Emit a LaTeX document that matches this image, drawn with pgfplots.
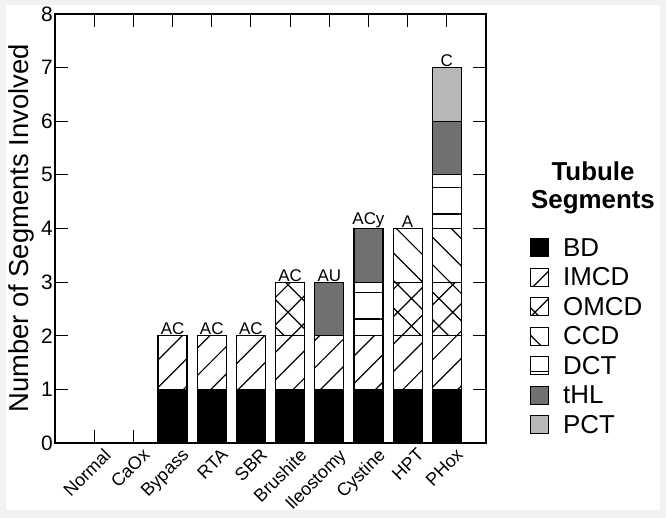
\documentclass[border=0pt]{standalone}
\usepackage{fontspec}
\setmainfont{Liberation Sans}
\usepackage{pgfplots}
\usepackage{pgfplotstable}
\pgfplotsset{compat=1.18}
\usetikzlibrary{patterns.meta}

\pgfplotstableread{
x BD IMCD OMCD CCD DCT tHL PCT
0 0 0 0 0 0 0 0
1 0 0 0 0 0 0 0
2 1 1 0 0 0 0 0
3 1 1 0 0 0 0 0
4 1 1 0 0 0 0 0
5 1 1 1 0 0 0 0
6 1 1 0 0 0 1 0
7 1 1 0 0 1 1 0
8 1 1 1 1 0 0 0
9 1 1 1 1 1 1 1
}\segdata

\definecolor{thl}{gray}{0.44}
\definecolor{pct}{gray}{0.72}
\definecolor{bgc}{gray}{0.95}
\tikzset{toplab/.style={anchor=south, inner sep=0.5bp, font=\fontsize{17}{17}\selectfont}}

\begin{document}
\begin{tikzpicture}
\useasboundingbox (-55bp,-75bp) rectangle (611bp,443bp);
\fill[bgc] (-55bp,-75bp) rectangle (611bp,443bp);
\fill[white] (-49bp,-67bp) rectangle (605bp,438bp);
\begin{axis}[
  at={(0,0)}, anchor=south west,
  scale only axis, width=431bp, height=429bp,
  ybar stacked, bar width=0.74,
  xmin=-1, xmax=10, ymin=0, ymax=8,
  xtick={0,...,9},
  xticklabels={Normal,CaOx,Bypass,RTA,SBR,Brushite,Ileostomy,Cystine,HPT,PHox},
  ytick={0,...,8},
  tick align=inside,
  major tick length=13bp,
  tick style={black, line width=1.1bp},
  axis line style={line width=1.3bp},
  /pgf/number format/assume math mode=true,
  yticklabel style={font=\fontsize{21}{21}\selectfont, inner sep=2bp},
  xticklabel style={font=\fontsize{18}{18}\selectfont, rotate=45, anchor=north east, inner sep=2bp, xshift=5bp, yshift=-7bp},
  ylabel={Number of Segments Involved},
  ylabel style={font=\fontsize{27.5}{27.5}\selectfont, at={(axis description cs:-0.078,0.5)}, anchor=center},
  every axis plot/.append style={draw=black, line width=1.2bp},
  legend style={at={(rel axis cs:1.102,0.4825)}, anchor=north west, draw=none, fill=none,
    inner sep=0pt, row sep=6bp, column sep=12bp,
    font=\fontsize{26}{26}\selectfont},
  legend cell align=left,
  legend image code/.code={\draw[#1, line width=1bp] (0bp,-9bp) rectangle (18bp,9bp);},
]
\addplot[fill=black] table[x=x, y=BD] {\segdata};
\addlegendentry{BD}
\addplot[pattern={Lines[angle=45,distance=19.4bp,line width=1.2bp]}, pattern color=black] table[x=x, y=IMCD] {\segdata};
\addlegendentry{IMCD}
\addplot[pattern={Hatch[angle=45,distance=19.4bp,line width=1.2bp]}, pattern color=black] table[x=x, y=OMCD] {\segdata};
\addlegendentry{OMCD}
\addplot[pattern={Lines[angle=-45,distance=19.4bp,line width=1.2bp]}, pattern color=black] table[x=x, y=CCD] {\segdata};
\addlegendentry{CCD}
\addplot[pattern={Lines[angle=0,distance=26.25bp,yshift=15.25bp,line width=1.2bp]}, pattern color=black] table[x=x, y=DCT] {\segdata};
\addlegendentry{DCT}
\addplot[fill=thl] table[x=x, y=tHL] {\segdata};
\addlegendentry{tHL}
\addplot[fill=pct] table[x=x, y=PCT] {\segdata};
\addlegendentry{PCT}
\node[toplab] at (axis cs:2,2) {AC};
\node[toplab] at (axis cs:3,2) {AC};
\node[toplab] at (axis cs:4,2) {AC};
\node[toplab] at (axis cs:5,3) {AC};
\node[toplab] at (axis cs:6,3) {AU};
\node[toplab] at (axis cs:7,4) {ACy};
\node[toplab] at (axis cs:8,4) {A};
\node[toplab] at (axis cs:9,7) {C};
\end{axis}
\node[anchor=base, font=\bfseries\fontsize{26}{26}\selectfont] at (538bp,262bp) {Tubule};
\node[anchor=base, font=\bfseries\fontsize{26}{26}\selectfont] at (538bp,234bp) {Segments};
\end{tikzpicture}
\end{document}
